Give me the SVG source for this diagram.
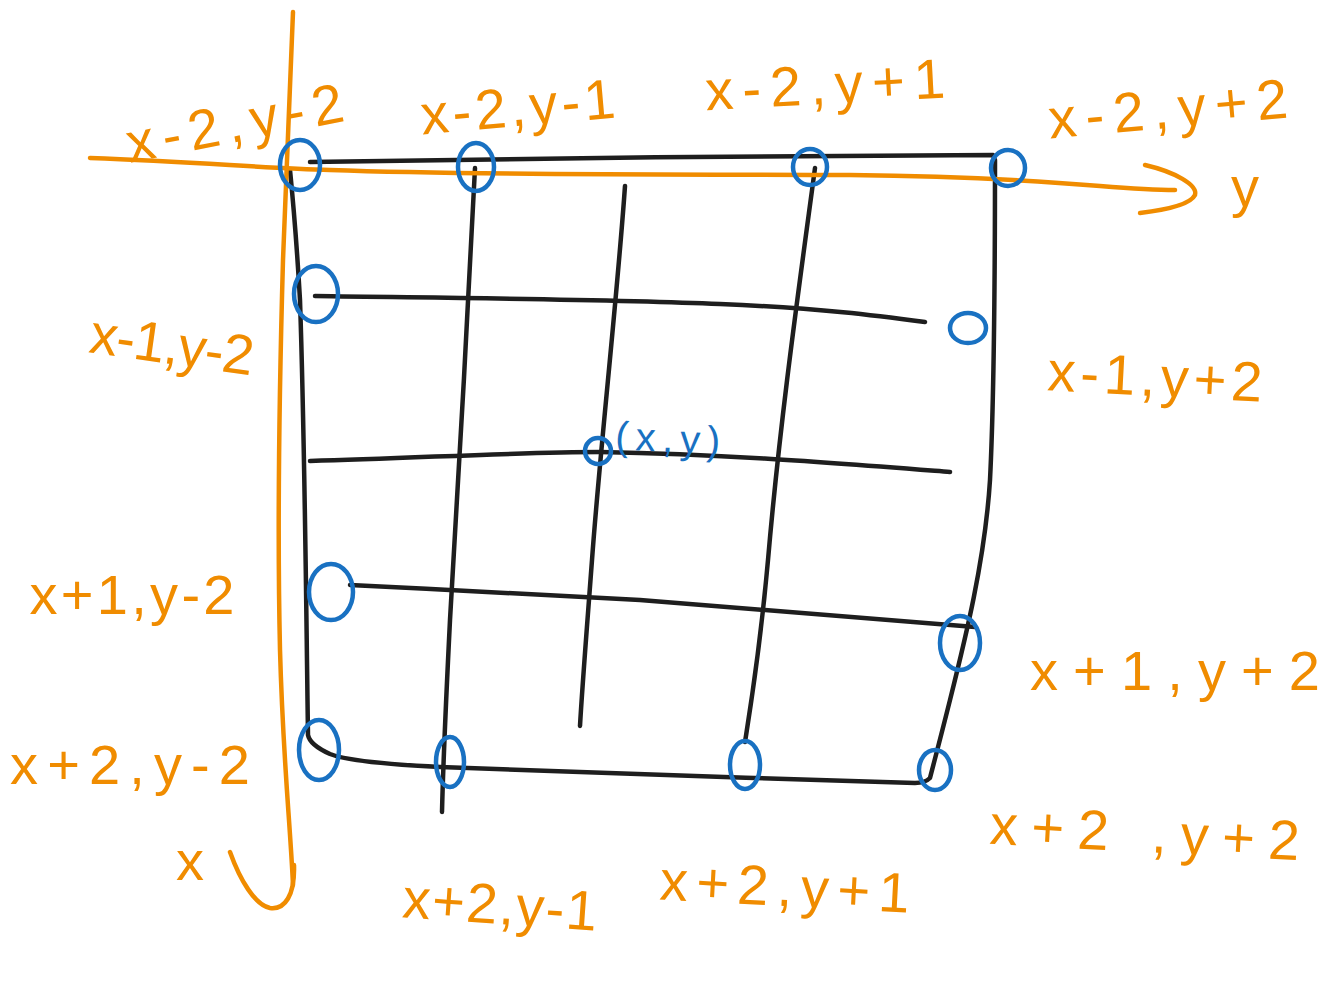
<svg xmlns="http://www.w3.org/2000/svg" width="1328" height="982" viewBox="0 0 1328 982">
<style>
.blk{fill:none;stroke:#1e1e1e;stroke-width:4.5;stroke-linecap:round;stroke-linejoin:round}
.org{fill:none;stroke:#f08c00;stroke-width:4.5;stroke-linecap:round;stroke-linejoin:round}
.blu{fill:none;stroke:#1971c2;stroke-width:4.5;stroke-linecap:round}
.lbl{fill:#f08c00;font-family:"Liberation Sans",Arial,sans-serif;font-size:56px;text-anchor:middle}
.blbl{fill:#1971c2;font-family:"Liberation Sans",Arial,sans-serif;font-size:40px;text-anchor:middle}
</style>
<rect width="1328" height="982" fill="#ffffff"/>
<g id="connectors">
<path class="blk" d="M310,162 C500,158 800,156 993,155 L995,160 C995,250 994,400 990,480 C985,560 965,640 950,700 C940,740 932,770 930,778 Q925,783 915,783 C750,778 500,770 440,767 C380,764 345,760 330,754 Q310,745 308,735 C306,600 305,450 300,300 C296,230 292,190 290,170"/>
<path class="blk" d="M475,168 C468,300 458,500 450,620 C446,700 443,770 442,812"/>
<path class="blk" d="M625,186 C617,300 600,450 592,560 C586,640 582,690 580,726"/>
<path class="blk" d="M815,168 C800,280 780,420 768,560 C760,650 750,710 745,742"/>
<path class="blk" d="M315,296 C450,298 610,299 720,304 C820,308 880,316 925,322"/>
<path class="blk" d="M310,461 C420,458 520,452 600,452 C720,454 820,462 950,472"/>
<path class="blk" d="M350,585 C450,590 560,595 640,600 C760,610 880,620 975,627"/>
<path class="org" d="M90,158 C200,162 260,168 330,170 C500,176 700,174 850,175 C950,176 1030,180 1100,186 Q1150,190 1175,190"/>
<path class="org" d="M1145,165 C1175,172 1198,185 1195,195 C1190,205 1165,210 1140,213"/>
<path class="org" d="M293,12 C290,100 286,170 283,260 C279,400 277,520 280,650 C283,760 290,820 293,885"/>
<path class="org" d="M230,852 C240,880 255,905 270,908 C285,910 295,895 294,865"/>
</g>
<g id="n-x-2-y-2"><ellipse class="blu" cx="300" cy="165" rx="20" ry="25"/><text class="lbl" x="235" y="142" font-size="58" textLength="220" lengthAdjust="spacing" transform="rotate(-11 235 125)">x-2,y-2</text></g>
<g id="n-x-2-y-1"><ellipse class="blu" cx="476" cy="167" rx="18" ry="24"/><text class="lbl" x="518" y="126" font-size="54" textLength="195" lengthAdjust="spacing" transform="rotate(-5 518 110)">x-2,y-1</text></g>
<g id="n-x-2-y+1"><ellipse class="blu" cx="810" cy="167" rx="17" ry="18"/><text class="lbl" x="825" y="104" font-size="60" textLength="240" lengthAdjust="spacing" transform="rotate(-3 825 85)">x-2,y+1</text></g>
<g id="n-x-2-y+2"><ellipse class="blu" cx="1008" cy="168" rx="17" ry="18"/><text class="lbl" x="1168" y="128" font-size="58" textLength="240" lengthAdjust="spacing" transform="rotate(-5 1168 110)">x-2,y+2</text></g>
<g id="n-x-1-y-2"><ellipse class="blu" cx="316" cy="294" rx="22" ry="28"/><text class="lbl" x="172" y="364" font-size="54" textLength="165" lengthAdjust="spacing" transform="rotate(8 172 345)">x-1,y-2</text></g>
<g id="n-x-1-y+2"><ellipse class="blu" cx="968" cy="328" rx="18" ry="15"/><text class="lbl" x="1155" y="396" font-size="56" textLength="215" lengthAdjust="spacing" transform="rotate(3 1155 378)">x-1,y+2</text></g>
<g id="n-x-y"><ellipse class="blu" cx="598" cy="451" rx="13" ry="13"/><text class="blbl" x="668" y="452" textLength="105" lengthAdjust="spacing" transform="rotate(3 668 437)">(x,y)</text></g>
<g id="n-x+1-y-2"><ellipse class="blu" cx="331" cy="592" rx="22" ry="28"/><text class="lbl" x="132" y="614" font-size="58" textLength="205" lengthAdjust="spacing">x+1,y-2</text></g>
<g id="n-x+1-y+2"><ellipse class="blu" cx="960" cy="643" rx="20" ry="27"/><text class="lbl" x="1175" y="690" font-size="62" textLength="290" lengthAdjust="spacing">x+1,y+2</text></g>
<g id="n-x+2-y-2"><ellipse class="blu" cx="319" cy="750" rx="20" ry="30"/><text class="lbl" x="130" y="784" font-size="64" textLength="240" lengthAdjust="spacing">x+2,y-2</text></g>
<g id="n-x+2-y-1"><ellipse class="blu" cx="450" cy="762" rx="14" ry="25"/><text class="lbl" x="500" y="924" font-size="56" textLength="195" lengthAdjust="spacing" transform="rotate(4 500 905)">x+2,y-1</text></g>
<g id="n-x+2-y+1"><ellipse class="blu" cx="745" cy="765" rx="15" ry="24"/><text class="lbl" x="785" y="906" font-size="60" textLength="250" lengthAdjust="spacing" transform="rotate(3 785 885)">x+2,y+1</text></g>
<g id="n-x+2-y+2"><ellipse class="blu" cx="935" cy="770" rx="16" ry="20"/><text class="lbl" x="1145" y="852" font-size="60" textLength="310" lengthAdjust="spacing" transform="rotate(3 1145 830)">x+2 ,y+2</text></g>
<g id="axis-labels"><text class="lbl" x="190" y="880" font-size="62">x</text><text class="lbl" x="1245" y="206" font-size="62">y</text></g>
</svg>
